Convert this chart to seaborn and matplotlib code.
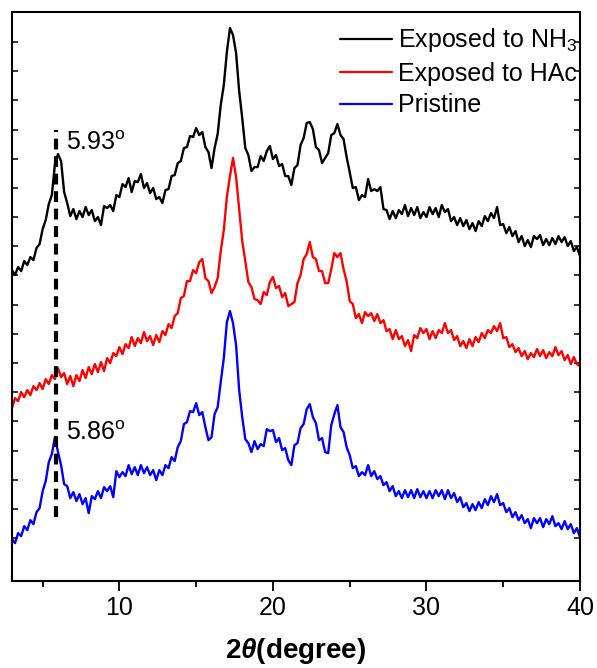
import numpy as np
import pandas as pd
import matplotlib
matplotlib.use("Agg")
import matplotlib.pyplot as plt
import seaborn as sns

# 2-theta sampling grid (degrees), 0.2 deg step as in the scan
two_theta = np.round(np.arange(3.0, 40.0001, 0.2), 1)

# Intensities (arbitrary units, stacked offsets included)
nh3 = [330, 325, 333, 329, 339, 335, 343, 340, 352, 356, 371, 380, 396, 405, 436, 446, 439, 408, 397, 384,
       391, 381, 389, 383, 393, 385, 390, 379, 383, 375, 394, 392, 395, 389, 405, 403, 416, 413, 422, 408,
       419, 418, 426, 412, 417, 407, 412, 401, 403, 397, 410, 411, 424, 425, 437, 439, 452, 453, 464, 463,
       472, 465, 468, 453, 448, 432, 452, 466, 495, 515, 548, 572, 565, 547, 509, 482, 452, 445, 429, 433,
       433, 444, 439, 449, 454, 441, 445, 434, 436, 424, 424, 415, 432, 435, 455, 462, 477, 478, 471, 453,
       450, 437, 442, 447, 465, 467, 476, 465, 461, 443, 428, 412, 413, 400, 405, 403, 421, 409, 411, 409,
       413, 391, 390, 381, 389, 382, 390, 386, 395, 384, 392, 385, 393, 382, 388, 383, 393, 386, 392, 383,
       395, 388, 391, 379, 383, 375, 382, 374, 380, 371, 377, 369, 379, 374, 384, 379, 387, 382, 393, 375,
       376, 367, 373, 364, 369, 358, 364, 354, 360, 353, 364, 361, 365, 355, 361, 355, 362, 356, 364, 358,
       363, 354, 359, 349, 353, 344]
hac = [192, 202, 199, 208, 203, 210, 205, 214, 210, 217, 211, 221, 216, 225, 221, 232, 223, 227, 216, 224,
       214, 225, 219, 230, 222, 233, 226, 236, 228, 238, 229, 242, 237, 247, 244, 253, 246, 256, 252, 263,
       254, 262, 257, 268, 259, 264, 255, 265, 258, 269, 265, 276, 272, 284, 287, 302, 304, 319, 319, 330,
       327, 338, 341, 322, 319, 307, 313, 322, 349, 370, 403, 424, 442, 423, 391, 359, 339, 318, 313, 301,
       300, 296, 308, 305, 318, 323, 312, 314, 303, 307, 294, 296, 298, 317, 325, 341, 346, 358, 343, 341,
       329, 329, 317, 317, 331, 347, 343, 347, 331, 319, 299, 296, 282, 286, 277, 288, 284, 287, 279, 286,
       277, 280, 269, 271, 261, 270, 261, 264, 254, 260, 249, 265, 262, 272, 267, 271, 261, 269, 262, 270,
       267, 277, 267, 270, 260, 264, 254, 259, 252, 261, 254, 263, 258, 267, 262, 270, 267, 274, 269, 277,
       262, 263, 253, 256, 248, 252, 244, 249, 241, 247, 243, 251, 244, 250, 242, 248, 244, 253, 245, 249,
       240, 245, 236, 243, 236, 234]
pristine = [61, 57, 67, 64, 74, 70, 80, 76, 88, 92, 109, 119, 138, 146, 163, 148, 135, 116, 114, 102,
            108, 99, 106, 96, 102, 87, 104, 101, 109, 102, 113, 109, 114, 103, 129, 123, 128, 124, 135, 126,
            133, 125, 135, 127, 133, 125, 130, 120, 130, 125, 135, 132, 143, 139, 153, 159, 176, 178, 189, 188,
            197, 185, 188, 173, 160, 163, 186, 193, 218, 242, 278, 289, 277, 255, 210, 183, 161, 157, 148, 159,
            151, 156, 154, 171, 169, 170, 158, 162, 150, 152, 140, 135, 155, 157, 172, 176, 191, 196, 183, 177,
            160, 162, 148, 147, 175, 186, 195, 173, 168, 153, 145, 132, 134, 124, 128, 125, 135, 124, 129, 121,
            124, 115, 118, 109, 114, 104, 109, 102, 110, 103, 110, 102, 111, 103, 109, 102, 109, 102, 110, 104,
            110, 101, 110, 102, 107, 98, 103, 93, 97, 89, 96, 90, 98, 92, 101, 95, 104, 98, 106, 95,
            97, 88, 92, 83, 88, 80, 85, 77, 81, 72, 82, 77, 82, 73, 81, 76, 84, 74, 77, 71,
            79, 71, 76, 67, 72, 63]

series_names = ["Exposed to NH$_3$", "Exposed to HAc", "Pristine"]
series_colors = ["#000000", "#ff0000", "#0000ff"]
peak_labels = ["5.93$^{\\rm o}$", "5.86$^{\\rm o}$"]
peak_positions = [5.93, 5.86]
x_ticks = [10, 20, 30, 40]

df = pd.concat([
    pd.DataFrame({"two_theta": two_theta, "intensity": vals, "sample": name})
    for name, vals in zip(series_names, [nh3, hac, pristine])
], ignore_index=True)

sns.set_theme(style="ticks")
plt.rcParams["font.family"] = ["Liberation Sans", "DejaVu Sans"]
plt.rcParams["mathtext.fontset"] = "custom"
plt.rcParams["mathtext.rm"] = "Liberation Sans"
plt.rcParams["mathtext.it"] = "Liberation Sans:italic:bold"
plt.rcParams["mathtext.bf"] = "Liberation Sans:bold"
for key in ["text.color", "axes.labelcolor", "xtick.color", "ytick.color", "axes.edgecolor"]:
    plt.rcParams[key] = "black"

fig = plt.figure(figsize=(5.97, 6.68), dpi=100)
ax = fig.add_axes([0.020, 0.130, 0.9515, 0.852])

sns.lineplot(data=df, x="two_theta", y="intensity", hue="sample", hue_order=series_names,
             palette=series_colors, estimator=None, sort=True, linewidth=1.7, ax=ax)

# dashed guide line at the low-angle peak
dash_x = float(np.mean(peak_positions)) - 0.05
ax.plot([dash_x, dash_x], [83, 470], color="black", lw=3.0, linestyle=(0, (2.6, 1.6)),
        solid_capstyle="butt", dash_capstyle="butt")
ax.text(6.5, 457, peak_labels[0], fontsize=18, ha="left", va="center")
ax.text(6.55, 167, peak_labels[1], fontsize=18, ha="left", va="center")

ax.set_xlim(3, 40)
ax.set_ylim(19, 588)
ax.set_xticks(x_ticks)
ax.set_xticks([5, 15, 25, 35], minor=True)
ax.set_yticks([62 + k * 29.18 for k in range(18)])
ax.set_yticklabels([])
ax.tick_params(axis="x", which="major", direction="out", length=7, width=1.3, labelsize=18, pad=4,
               top=False)
ax.tick_params(axis="x", which="minor", direction="out", length=4.3, width=1.3, top=False)
ax.tick_params(axis="y", which="major", direction="in", length=4.5, width=1.1, left=True, right=True)
for sp in ax.spines.values():
    sp.set_linewidth(1.5)
    sp.set_color("black")

ax.set_xlabel("2$\\mathit{\\theta}$(degree)", fontsize=20, fontweight="bold", labelpad=11)
ax.set_ylabel("")

leg = ax.legend(loc="upper right", bbox_to_anchor=(0.996, 0.975), frameon=False, fontsize=18,
                handlelength=2.1, handletextpad=0.25, labelspacing=0.3, borderaxespad=0, borderpad=0)
for line in leg.get_lines():
    line.set_linewidth(1.6)

fig.savefig("out.png", dpi=100)
